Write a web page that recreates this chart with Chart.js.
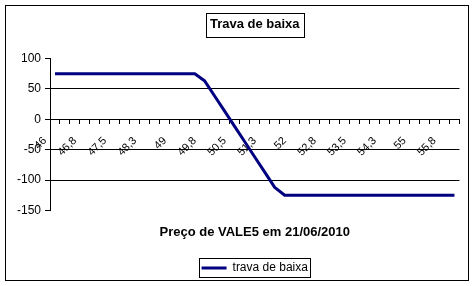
<!DOCTYPE html>
<html>
<head>
<meta charset="utf-8">
<script src="https://cdn.jsdelivr.net/npm/chart.js@4"></script>
<style>
  html, body { margin: 0; padding: 0; background: #ffffff; }
  canvas { display: block; }
</style>
</head>
<body>
<canvas id="c" width="475" height="286"></canvas>
<script>
// ---- data ----
const prices = [46, 46.25, 46.5, 46.75, 47, 47.25, 47.5, 47.75, 48, 48.25, 48.5,
                48.75, 49, 49.25, 49.5, 49.75, 50, 50.25, 50.5, 50.75, 51,
                51.25, 51.5, 51.75, 52, 52.25, 52.5, 52.75, 53, 53.25, 53.5,
                53.75, 54, 54.25, 54.5, 54.75, 55, 55.25, 55.5, 55.75, 56];
const payoff = [75, 75, 75, 75, 75, 75, 75, 75, 75, 75, 75, 75, 75, 75, 75,
                63, 38, 13, -12, -37, -62, -87, -112,
                -125, -125, -125, -125, -125, -125, -125, -125, -125, -125,
                -125, -125, -125, -125, -125, -125, -125, -125];
const xTickLabels = ['46', '46,8', '47,5', '48,3', '49', '49,8', '50,5', '51,3',
                     '52', '52,8', '53,5', '54,3', '55', '55,8'];
const chartTitle = 'Trava de baixa';
const xTitle = 'Preço de VALE5 em 21/06/2010';
const seriesName = 'trava de baixa';

const FONT = "'Liberation Sans', Arial, sans-serif";
const NAVY = '#000080';

const boxesPlugin = {
  id: 'boxes',
  afterDraw(chart) {
    const ctx = chart.ctx;
    ctx.save();
    ctx.strokeStyle = '#000';
    ctx.lineWidth = 1;
    // outer frame
    ctx.strokeRect(5.5, 5.5, chart.width - 12, chart.height - 11);
    // title frame
    const tb = chart.titleBlock;
    if (tb) {
      const o = tb.options;
      ctx.font = 'bold 13px ' + FONT;
      const w = ctx.measureText(chartTitle).width;
      const cx = (tb.left + tb.right) / 2;
      const cy = tb.top + o.padding.top + 13 * 1.2 / 2;
      ctx.strokeRect(Math.round(cx - w / 2 - 4) + 0.5, Math.round(cy - 12) + 0.5,
                     Math.round(w + 8), 24);
    }
    // legend frame
    const lg = chart.legend;
    if (lg && lg.legendHitBoxes && lg.legendHitBoxes.length) {
      const h = lg.legendHitBoxes[0];
      ctx.strokeRect(Math.round(h.left - 3) + 0.5, Math.round(h.top - 4) + 0.5,
                     Math.round(h.width + 5), Math.round(h.height + 7));
    }
    ctx.restore();
  }
};

new Chart(document.getElementById('c'), {
  type: 'line',
  data: {
    labels: prices,
    datasets: [{
      label: seriesName,
      data: payoff,
      borderColor: NAVY,
      backgroundColor: NAVY,
      borderWidth: 3,
      borderJoinStyle: 'round',
      pointRadius: 0,
      pointHoverRadius: 0,
      tension: 0,
      fill: false
    }]
  },
  options: {
    responsive: false,
    animation: false,
    events: [],
    layout: { padding: { left: 10, right: 15, top: 5, bottom: 2 } },
    plugins: {
      title: {
        display: true,
        text: chartTitle,
        fullSize: false,
        color: '#000',
        font: { family: FONT, size: 13, weight: 'bold', lineHeight: 1.2 },
        padding: { top: 12, bottom: 26 }
      },
      subtitle: {
        display: true,
        text: xTitle,
        position: 'bottom',
        fullSize: false,
        weight: 500,
        color: '#000',
        font: { family: FONT, size: 13, weight: 'bold', lineHeight: 1.2 },
        padding: { top: 14, bottom: 12 }
      },
      legend: {
        display: true,
        position: 'bottom',
        fullSize: false,
        labels: {
          color: '#000',
          font: { family: FONT, size: 12 },
          boxWidth: 25,
          boxHeight: 3,
          padding: 10,
          generateLabels: (chart) => chart.data.datasets.map((ds, i) => ({
            text: ds.label,
            fillStyle: ds.borderColor,
            strokeStyle: ds.borderColor,
            lineWidth: 0,
            hidden: false,
            datasetIndex: i,
            fontColor: '#000'
          }))
        }
      },
      tooltip: { enabled: false }
    },
    scales: {
      x: {
        type: 'category',
        position: { y: 0 },
        offset: true,
        grid: {
          offset: true,
          drawOnChartArea: false,
          drawTicks: true,
          tickLength: 4,
          tickColor: '#000',
          color: '#000'
        },
        border: { display: true, color: '#000', width: 1 },
        ticks: {
          autoSkip: false,
          minRotation: 45,
          maxRotation: 45,
          labelOffset: -10,
          padding: 11,
          color: '#000',
          font: { family: FONT, size: 11 },
          callback: (val, idx) => (idx % 3 === 0 ? xTickLabels[idx / 3] : '')
        }
      },
      y: {
        min: -150,
        max: 100,
        afterFit: (s) => { s.width = 40; },
        grid: {
          color: (c) => (c.tick && (c.tick.value === 100 || c.tick.value === -150)) ? 'rgba(0,0,0,0)' : '#000',
          tickColor: '#000',
          tickLength: 5,
          lineWidth: 1
        },
        border: { display: true, color: '#000', width: 1 },
        ticks: {
          stepSize: 50,
          padding: 4,
          color: '#000',
          font: { family: FONT, size: 12 }
        }
      }
    }
  },
  plugins: [boxesPlugin]
});
</script>
</body>
</html>
